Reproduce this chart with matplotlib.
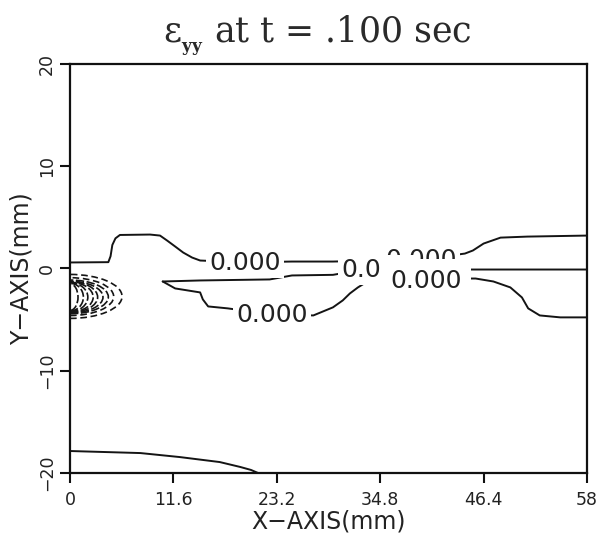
import matplotlib
matplotlib.use("Agg")
import matplotlib.pyplot as plt
from matplotlib.patches import Arc

plt.rcParams['font.family'] = ['DejaVu Sans']
plt.rcParams['mathtext.fontset'] = 'dejavuserif'

# ---- data ----
title = "\u03b5" + r"${}_{{}_{\mathbf{yy}}}$ at t = .100 sec"
x_ticks = [0, 11.6, 23.2, 34.8, 46.4, 58]
x_tick_labels = ['0', '11.6', '23.2', '34.8', '46.4', '58']
y_ticks = [-20, -10, 0, 10, 20]
y_tick_labels = ['\u221220', '\u221210', '0', '10', '20']

# zero-level contour lines (x in mm, y in mm)
zero_a_x = [0, 4.3, 4.55, 4.75, 5.1, 5.6, 8.98, 10.1, 10.9, 11.8, 12.7, 13.7, 14.6, 19.6, 24.9, 29.5, 39.4, 44.3, 45.2, 46.4, 48.3, 51.3, 58]
zero_a_y = [0.59, 0.62, 1.2, 2.3, 2.95, 3.28, 3.32, 3.22, 2.73, 2.15, 1.56, 1.07, 0.78, 0.6, 0.68, 0.68, 0.88, 1.46, 1.76, 2.44, 3.02, 3.12, 3.22]

zero_b_x = [10.4, 14.6, 22.4, 24.9, 29.5, 33.0, 45.5, 58]
zero_b_y = [-1.27, -1.17, -1.07, -0.68, -0.62, -0.1, -0.1, -0.1]

zero_c_x = [10.4, 11.8, 14.6, 14.9, 15.5, 17.7, 22.7, 27.3, 29.5, 30.6, 31.4, 32.3, 33.5, 38.0, 45.5, 47.5, 49.4, 50.7, 51.4, 52.7, 55.0, 58]
zero_c_y = [-1.27, -1.95, -2.34, -3.02, -3.71, -3.9, -4.5, -4.59, -3.8, -3.12, -2.44, -1.85, -1.2, -1.0, -0.98, -1.27, -1.85, -2.83, -3.9, -4.59, -4.78, -4.78]

zero_d_x = [0, 7.9, 12.3, 16.8, 19.1, 20.3, 21.1]
zero_d_y = [-17.85, -18.05, -18.44, -18.93, -19.41, -19.7, -20.0]

# negative (dashed) contours near the left edge
neg_center_y = [-2.73, -2.75, -2.78, -2.8, -2.8, -2.8, -2.8, -2.8, -2.8]
neg_half_w = [5.84, 4.9, 4.3, 3.7, 3.1, 2.6, 2.0, 1.5, 0.9]
neg_half_h = [2.15, 1.85, 1.65, 1.55, 1.5, 1.45, 1.4, 1.35, 1.3]

# contour labels (positions in mm); the middle cluster overlaps as in the source
label_x = [19.64, 22.67, 43.4, 30.4, 39.9]
label_y = [0.54, -4.54, 0.88, -0.1, -1.27]
label_txt = ['0.000', '0.000', '0.000', '0.000', '0.000']
label_ha = ['center', 'center', 'right', 'left', 'center']
label_z = [3, 3, 4, 5, 6]
label_pad = [0.12, 0.12, 0.12, 0.12, 0.4]

# ---- figure ----
W, H = 601, 541
fig = plt.figure(figsize=(W / 100, H / 100), dpi=100)
ax = fig.add_axes([70 / W, 1 - 473 / H, 517 / W, 409 / H])
ax.set_xlim(0, 58)
ax.set_ylim(-20, 20)

lc = '#141414'
lw = 1.4
for xs, ys in [(zero_a_x, zero_a_y), (zero_b_x, zero_b_y), (zero_c_x, zero_c_y), (zero_d_x, zero_d_y)]:
    ax.plot(xs, ys, color=lc, lw=lw, solid_capstyle='round', zorder=2)

for i, (cy, hw, hh) in enumerate(zip(neg_center_y, neg_half_w, neg_half_h)):
    dash = (0, (4, 2.2)) if i < 2 else (0, (5, 1.5))
    arc = Arc((0, cy), 2 * hw, 2 * hh, theta1=-90, theta2=90,
              color=lc, lw=1.2, linestyle=dash, zorder=2)
    ax.add_patch(arc)

for lx, ly, t, ha, z, p in zip(label_x, label_y, label_txt, label_ha, label_z, label_pad):
    ax.text(lx, ly, t, ha=ha, va='center', fontsize=18, color='#222222',
            family='DejaVu Sans', zorder=z,
            bbox=dict(boxstyle='square,pad=%g' % p, fc='white', ec='none'))

# axes styling
for s in ax.spines.values():
    s.set_linewidth(1.6)
    s.set_color('#111111')
ax.set_xticks(x_ticks)
ax.set_xticklabels(x_tick_labels)
ax.set_yticks(y_ticks)
ax.set_yticklabels(y_tick_labels, rotation=90, va='center')
ax.tick_params(axis='both', direction='out', length=7, width=1.5, color='#111111',
               labelsize=12.5, labelcolor='#222222')
ax.tick_params(axis='x', pad=6)
ax.tick_params(axis='y', pad=3)

ax.set_xlabel('X\u2212AXIS(mm)', fontsize=17, color='#222222')
ax.xaxis.label.set_va('center')
ax.xaxis.set_label_coords(0.5, (473 - 522) / 409)
ax.set_ylabel('Y\u2212AXIS(mm)', fontsize=17, color='#222222')
ax.yaxis.label.set_va('center')
ax.yaxis.set_label_coords((22 - 70) / 517, 0.5)

ax.text((317 - 70) / 517, 1 + 22 / 409, title, transform=ax.transAxes,
        ha='center', va='baseline', fontsize=25, color='#2a2a2a',
        family='DejaVu Serif')

fig.savefig('out.png', dpi=100, facecolor='white')
